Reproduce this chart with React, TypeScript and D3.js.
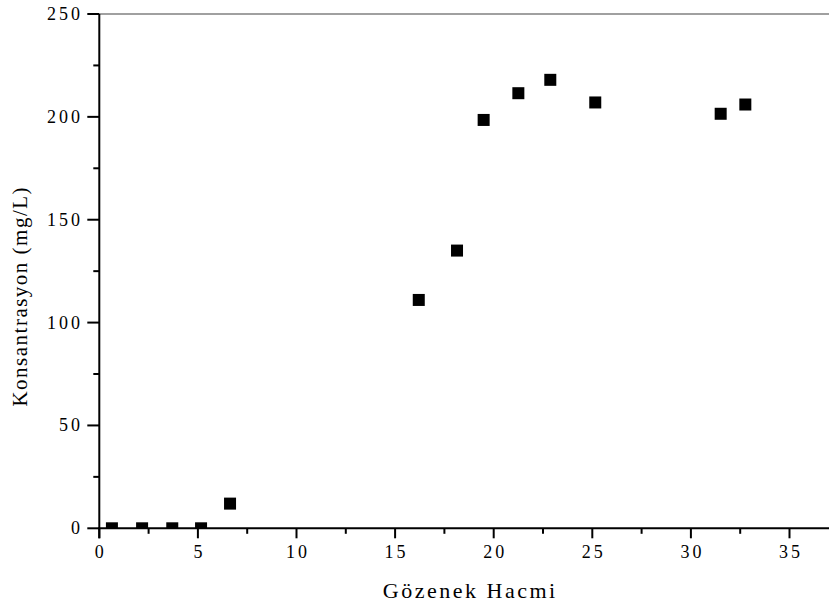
import React from "react";
import * as d3 from "d3";

const poreVolume = [0.64, 2.17, 3.7, 5.16, 6.63, 16.2, 18.14, 19.49, 21.25, 22.87, 25.15, 31.51, 32.76];
const concentration = [0, 0, 0, 0, 12, 111, 135, 198.5, 211.5, 218, 207, 201.5, 206];
const xTicks = [0, 5, 10, 15, 20, 25, 30, 35];
const yTicks = [0, 50, 100, 150, 200, 250];
const xLabel = "Gözenek Hacmi";
const yLabel = "Konsantrasyon (mg/L)";

const W = 830, H = 606;
const L = 99.3, R = 829, T = 14, B = 528.3;

export default function App() {
  const x = d3.scaleLinear().domain([0, 37]).range([L, L + 37 * 19.72]);
  const y = d3.scaleLinear().domain([0, 250]).range([B, T]);
  const xMinor = d3.range(2.5, 37, 5);
  const yMinor = d3.range(25, 250, 50);
  const font = "Liberation Serif";
  const ms = 12;
  const tickFs = 18, tickLs = 3;
  return (
    <svg width={W} height={H} style={{ position: "absolute", left: 0, top: 0, fontFamily: font }}>
      <defs>
        <clipPath id="plot">
          <rect x={L} y={T} width={R - L} height={B - T} />
        </clipPath>
      </defs>
      <rect width={W} height={H} fill="#fff" />
      <line x1={L} x2={R} y1={T} y2={T} stroke="#808080" strokeWidth={1.6} />
      <g clipPath="url(#plot)">
        {poreVolume.map((v, i) => (
          <rect key={i} x={x(v) - ms / 2} y={y(concentration[i]) - ms / 2} width={ms} height={ms} fill="#000" />
        ))}
      </g>
      <line x1={L - 1} x2={R} y1={B} y2={B} stroke="#000" strokeWidth={2} />
      {xTicks.map((t) => (
        <g key={"xt" + t}>
          <line x1={x(t)} x2={x(t)} y1={B} y2={B + 10} stroke="#000" strokeWidth={2} />
          <text x={x(t)} y={558} textAnchor="middle" fontSize={tickFs} letterSpacing={tickLs} dx={tickLs / 2} style={{ fontFamily: font }}>{t}</text>
        </g>
      ))}
      {xMinor.map((t) => (
        <line key={"xm" + t} x1={x(t)} x2={x(t)} y1={B} y2={B + 5.5} stroke="#000" strokeWidth={2} />
      ))}
      <line x1={L} x2={L} y1={T} y2={B + 10} stroke="#000" strokeWidth={2} />
      {yTicks.map((t) => (
        <g key={"yt" + t}>
          <line x1={L - 12} x2={L} y1={y(t)} y2={y(t)} stroke="#000" strokeWidth={2} />
          <text x={80} y={y(t) + 6} textAnchor="end" fontSize={tickFs} letterSpacing={tickLs} dx={tickLs} style={{ fontFamily: font }}>{t}</text>
        </g>
      ))}
      {yMinor.map((t) => (
        <line key={"ym" + t} x1={L - 6} x2={L} y1={y(t)} y2={y(t)} stroke="#000" strokeWidth={2} />
      ))}
      <text x={469} y={598} textAnchor="middle" fontSize={22} letterSpacing={2.5} dx={1.25} style={{ fontFamily: font }}>{xLabel}</text>
      <text transform={`translate(27,297) rotate(-90)`} textAnchor="middle" fontSize={21} letterSpacing={1.5} dx={0.75} style={{ fontFamily: font }}>{yLabel}</text>
    </svg>
  );
}
